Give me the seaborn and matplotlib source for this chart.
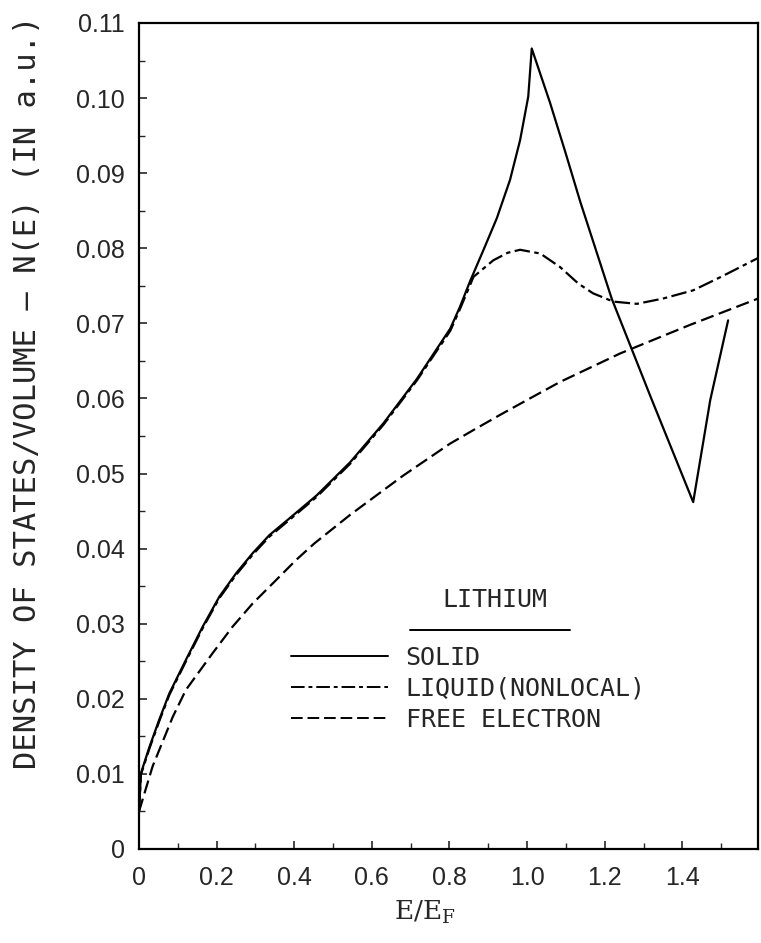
import matplotlib
matplotlib.use("Agg")
import matplotlib.pyplot as plt
from matplotlib.ticker import MultipleLocator, FixedLocator
from matplotlib.lines import Line2D
import seaborn as sns

# ---- data ----
solid_x = [0.0, 0.005, 0.027, 0.052, 0.078, 0.121, 0.164, 0.207, 0.250, 0.293,
           0.336, 0.387, 0.458, 0.544, 0.630, 0.716, 0.802, 0.827, 0.853, 0.887,
           0.922, 0.956, 0.982, 1.003, 1.012, 1.059, 1.098, 1.137, 1.218, 1.32,
           1.428, 1.472, 1.518]
solid_y = [0.005, 0.0101, 0.0136, 0.0172, 0.0207, 0.0252, 0.0296, 0.0336, 0.0367,
           0.0394, 0.0418, 0.0440, 0.0471, 0.0515, 0.0567, 0.0626, 0.0693, 0.0722,
           0.0756, 0.0797, 0.0840, 0.0891, 0.0944, 0.1002, 0.1066, 0.0994, 0.0929,
           0.0862, 0.0733, 0.0600, 0.0462, 0.0598, 0.0704]

liquid_x = [0.0, 0.005, 0.027, 0.052, 0.078, 0.121, 0.164, 0.207, 0.250, 0.293,
            0.336, 0.387, 0.458, 0.544, 0.630, 0.716, 0.802, 0.827, 0.862, 0.913,
            0.950, 0.982, 1.034, 1.085, 1.132, 1.170, 1.222, 1.283, 1.350, 1.428,
            1.500, 1.595]
liquid_y = [0.005, 0.0099, 0.0134, 0.0170, 0.0205, 0.0250, 0.0294, 0.0334, 0.0365,
            0.0392, 0.0416, 0.0438, 0.0469, 0.0513, 0.0565, 0.0624, 0.0690, 0.0719,
            0.0762, 0.0784, 0.0794, 0.0798, 0.0793, 0.0775, 0.0753, 0.0740, 0.0729,
            0.0726, 0.0733, 0.0744, 0.0762, 0.0787]

free_x = [0.0, 0.035, 0.087, 0.121, 0.190, 0.241, 0.293, 0.353, 0.405, 0.452,
          0.544, 0.680, 0.802, 0.862, 0.930, 1.000, 1.085, 1.240, 1.420, 1.595]
free_y = [0.005, 0.0110, 0.0176, 0.0212, 0.0261, 0.0296, 0.0327, 0.0358, 0.0385,
          0.0407, 0.0445, 0.0497, 0.0540, 0.0558, 0.0578, 0.0598, 0.0622, 0.0660,
          0.0698, 0.0733]

series_labels = ["SOLID", "LIQUID(NONLOCAL)", "FREE ELECTRON"]
legend_title = "LITHIUM"

x_ticks = [0, 0.2, 0.4, 0.6, 0.8, 1.0, 1.2, 1.4]
x_tick_labels = ["0", "0.2", "0.4", "0.6", "0.8", "1.0", "1.2", "1.4"]
y_ticks = [0, 0.01, 0.02, 0.03, 0.04, 0.05, 0.06, 0.07, 0.08, 0.09, 0.10, 0.11]
y_tick_labels = ["0", "0.01", "0.02", "0.03", "0.04", "0.05", "0.06", "0.07",
                 "0.08", "0.09", "0.10", "0.11"]

# ---- figure ----
sns.set_style("ticks")
plt.rcParams["font.family"] = ["DejaVu Sans Mono", "DejaVu Sans"]

fig = plt.figure(figsize=(7.61, 9.43), dpi=100)
ax = fig.add_axes([139 / 761, 1 - 849 / 943, (758 - 139) / 761, (849 - 23) / 943])

lw = 1.6
sns.lineplot(x=solid_x, y=solid_y, ax=ax, color="black", linewidth=lw,
             label=series_labels[0], sort=False)
sns.lineplot(x=liquid_x, y=liquid_y, ax=ax, color="black", linewidth=lw,
             linestyle=(0, (7, 2, 2, 2)), label=series_labels[1], sort=False)
sns.lineplot(x=free_x, y=free_y, ax=ax, color="black", linewidth=lw,
             linestyle=(0, (6, 2.5)), label=series_labels[2], sort=False)

ax.set_xlim(0, 1.595)
ax.set_ylim(0, 0.11)

ax.xaxis.set_major_locator(FixedLocator(x_ticks))
ax.set_xticklabels(x_tick_labels)
ax.xaxis.set_minor_locator(MultipleLocator(0.1))
ax.yaxis.set_major_locator(FixedLocator(y_ticks))
ax.set_yticklabels(y_tick_labels)
ax.yaxis.set_minor_locator(MultipleLocator(0.005))

for lab in ax.get_xticklabels() + ax.get_yticklabels():
    lab.set_family("Liberation Sans")
    lab.set_fontsize(18)

ax.tick_params(axis="both", which="major", direction="in", length=6, width=1.2,
               top=False, right=False)
ax.tick_params(axis="both", which="minor", direction="in", length=4, width=1.0,
               top=False, right=False)
ax.tick_params(axis="y", which="major", pad=10)
ax.tick_params(axis="x", which="major", pad=12)

for sp in ax.spines.values():
    sp.set_visible(True)
    sp.set_linewidth(1.6)
    sp.set_color("black")

ax.set_ylabel("DENSITY OF STATES/VOLUME — N(E) (IN a.u.)", fontsize=22,
              family=["DejaVu Sans Mono", "DejaVu Sans"])
ax.yaxis.set_label_coords(-0.157, 0.553)
ax.set_xlabel(r"$\mathregular{E/E_F}$", fontsize=19, family="DejaVu Serif")
ax.xaxis.set_label_coords(0.462, -0.06)

leg = ax.legend(loc="upper left", bbox_to_anchor=(0.245, 0.246), frameon=False,
                fontsize=18, handlelength=3.9, handletextpad=0.7,
                labelspacing=0.28, borderaxespad=0, borderpad=0)
for h in leg.get_lines():
    h.set_linewidth(1.4)

ax.text(0.575, 0.3015, legend_title, transform=ax.transAxes, ha="center",
        va="center", fontsize=18, family="DejaVu Sans Mono")
ax.add_line(Line2D([0.438, 0.696], [0.265, 0.265], transform=ax.transAxes,
                   color="black", linewidth=1.4))

fig.savefig("out.png", dpi=100, facecolor="white")
